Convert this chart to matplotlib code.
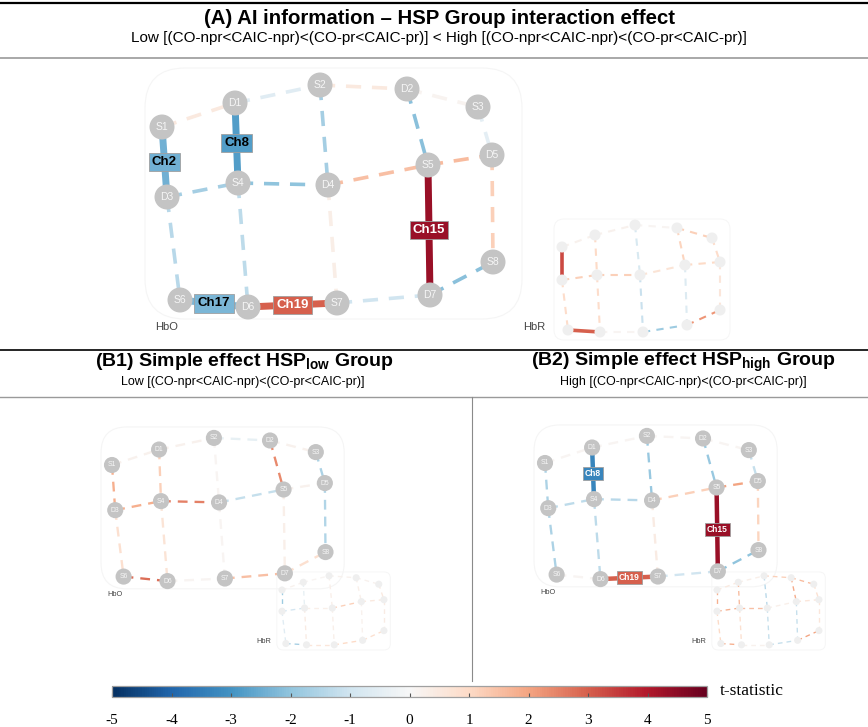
import matplotlib
matplotlib.use("Agg")
from matplotlib import pyplot as plt
from matplotlib import colors, cm
from matplotlib.patches import Circle, FancyBboxPatch

plt.rcParams['font.family'] = ['Liberation Sans', 'DejaVu Sans']
plt.rcParams['mathtext.fontset'] = 'custom'
plt.rcParams['mathtext.rm'] = 'Liberation Sans'
plt.rcParams['mathtext.bf'] = 'Liberation Sans:bold'
plt.rcParams['axes.unicode_minus'] = False

# channel = source/detector pair, numbered Ch1..Ch22 in this order
channels = [('S1', 'D1'), ('S1', 'D3'), ('D1', 'S2'), ('S2', 'D2'), ('S2', 'D4'),
            ('D2', 'S3'), ('D2', 'S5'), ('D1', 'S4'), ('S3', 'D5'), ('D3', 'S4'),
            ('S4', 'D4'), ('D4', 'S5'), ('S5', 'D5'), ('D3', 'S6'), ('S5', 'D7'),
            ('S4', 'D6'), ('S6', 'D6'), ('D4', 'S7'), ('D6', 'S7'), ('S7', 'D7'),
            ('D5', 'S8'), ('D7', 'S8')]

# t-statistics per channel
a_hbo_t = [0.5, -2.4, -0.6, 0.5, -1.7, 0.15, -2.1, -2.8, -0.5, -1.7, -2.0,
           1.5, 1.6, -1.4, 4.3, -1.3, -2.3, 0.35, 3.0, -1.0, 1.2, -2.1]
a_hbr_t = [0.2, 3.3, 0.2, 0.1, -0.8, 1.2, 1.1, 1.0, 0.9, 1.2, 1.2,
           0.7, 1.0, 0.9, -0.7, 0.9, 3.0, -1.1, 0.1, -1.8, 0.6, 2.2]
b1_hbo_t = [0.2, 1.8, 0.2, -0.4, 0.1, 0.2, 2.4, 1.2, -1.6, 1.8, 2.5,
            -1.2, 0.2, 0.8, 0.3, 0.7, 2.8, 0.1, 0.1, 1.5, -1.5, 0.8]
b1_hbr_t = [0.2, -1.8, 0.1, 0.2, 0.3, 0.2, 0.3, -0.4, 0.5, -0.9, 0.3,
            1.2, 0.5, -0.6, 0.2, 0.4, -1.7, 0.3, 0.6, 1.0, 0.4, 0.8]
b2_hbo_t = [0.1, -1.6, 0.1, 0.1, -1.9, 0.1, -1.9, -3.3, -1.2, -1.3, -1.4,
            1.2, 2.0, -1.6, 4.3, -1.3, 0.1, 0.4, 3.0, -1.0, 1.1, -2.0]
b2_hbr_t = [0.5, 1.8, 0.3, 1.2, -1.4, 1.6, 1.9, 1.6, 0.8, 1.8, 1.5,
            0.3, 0.6, 1.0, -1.2, 0.8, 1.8, -1.2, 0.2, -1.2, 0.6, 2.0]

# significant channels (numbers)
a_hbo_sig = [2, 8, 15, 17, 19]
a_hbr_sig = [2, 17]
b1_hbo_sig = []
b1_hbr_sig = []
b2_hbo_sig = [8, 15, 19]
b2_hbr_sig = []

colorbar_ticks = list(range(-5, 6))

# optode layout (pixels, as placed in panel A)
hbo_layout = {'S1': (162, 127), 'D1': (235, 103), 'S2': (320, 85), 'D2': (407, 89),
              'S3': (478, 107), 'D3': (167, 197), 'S4': (238, 183), 'D4': (328, 185),
              'S5': (428, 165), 'D5': (492, 155), 'S8': (493, 262), 'S6': (180, 300),
              'D6': (248, 307), 'S7': (337, 303), 'D7': (430, 295)}
hbr_layout = {'S1': (562, 247), 'D1': (595, 235), 'S2': (635, 225), 'D2': (677, 228),
              'S3': (712, 238), 'D3': (562, 280), 'S4': (597, 275), 'D4': (640, 275),
              'S5': (685, 265), 'D5': (720, 262), 'S8': (720, 310), 'S6': (568, 330),
              'D6': (600, 332), 'S7': (643, 332), 'D7': (687, 325)}

cmap = plt.get_cmap('RdBu_r')
norm = colors.Normalize(vmin=-5, vmax=5)


def place(layout, src, dst, s):
    return {k: (dst[0] + (x - src[0]) * s, dst[1] + (y - src[1]) * s)
            for k, (x, y) in layout.items()}


def draw_hbo(ax, pos, tvals, sig, s):
    # faint rounded frame behind the head map
    x0, y0 = pos['S1'][0] - 17 * s, pos['S2'][1] - 17 * s
    x1, y1 = pos['D5'][0] + 30 * s, pos['D6'][1] + 12 * s
    ax.add_patch(FancyBboxPatch((x0, y0), x1 - x0, y1 - y0,
                                boxstyle=f'round,pad=0,rounding_size={40 * s}',
                                fc='none', ec='#f5f5f5', lw=0.8, zorder=1))
    for i, (a, b) in enumerate(channels):
        (xa, ya), (xb, yb) = pos[a], pos[b]
        col = cmap(norm(tvals[i]))
        if i + 1 in sig:
            ax.plot([xa, xb], [ya, yb], color=col, lw=5.0 * s,
                    solid_capstyle='butt', zorder=3)
        else:
            ax.plot([xa, xb], [ya, yb], color=col, lw=2.6 * s,
                    dashes=(4.2, 3.0), zorder=2)
    for name, (x, y) in pos.items():
        ax.add_patch(Circle((x, y), 12.5 * s, fc='#c4c4c4', ec='none', zorder=4))
        ax.text(x, y, name, ha='center', va='center', fontsize=7.5 * s,
                color='#f6f6f6', zorder=5)
    for i, (a, b) in enumerate(channels):
        if i + 1 not in sig:
            continue
        (xa, ya), (xb, yb) = pos[a], pos[b]
        t = tvals[i]
        ax.text((xa + xb) / 2, (ya + yb) / 2, f'Ch{i + 1}', ha='center', va='center',
                fontsize=9.5 * s, fontweight='bold',
                color='white' if abs(t) >= 3 else 'black', zorder=6,
                bbox=dict(boxstyle='square,pad=0.25', fc=cmap(norm(t)),
                          ec='#a0a0a0', lw=0.6))
    ax.text(pos['S6'][0] - 25 * s, pos['S6'][1] + 27 * s, 'HbO', ha='left',
            va='center', fontsize=7.5 * s + 0.5, color='#444444')


def draw_hbr(ax, pos, tvals, sig, s):
    x0, y0 = pos['S1'][0] - 8 * s, pos['S2'][1] - 6 * s
    x1, y1 = pos['D5'][0] + 10 * s, pos['D6'][1] + 8 * s
    ax.add_patch(FancyBboxPatch((x0, y0), x1 - x0, y1 - y0,
                                boxstyle=f'round,pad=0,rounding_size={10 * s}',
                                fc='none', ec='#f6f6f6', lw=0.7, zorder=1))
    for i, (a, b) in enumerate(channels):
        (xa, ya), (xb, yb) = pos[a], pos[b]
        col = cmap(norm(tvals[i]))
        if i + 1 in sig:
            ax.plot([xa, xb], [ya, yb], color=col, lw=2.6 * s,
                    solid_capstyle='butt', zorder=3)
        else:
            ax.plot([xa, xb], [ya, yb], color=col, lw=1.5 * s,
                    dashes=(3.5, 3.0), zorder=2)
    for name, (x, y) in pos.items():
        ax.add_patch(Circle((x, y), 5.5 * s, fc='#efefef', ec='none', zorder=4))
    ax.text(pos['S6'][0] - 45 * s, pos['S6'][1] - 3 * s, 'HbR', ha='left',
            va='center', fontsize=7.5 * s + 0.5, color='#444444')


fig = plt.figure(figsize=(8.68, 7.27), dpi=100)
ax = fig.add_axes([0, 0, 1, 1])
ax.set_xlim(0, 868)
ax.set_ylim(727, 0)
ax.axis('off')

# panel A
draw_hbo(ax, hbo_layout, a_hbo_t, a_hbo_sig, 1.0)
draw_hbr(ax, hbr_layout, a_hbr_t, a_hbr_sig, 1.0)

# panels B1 / B2 (scaled copies)
sb = 0.645
draw_hbo(ax, place(hbo_layout, (162, 127), (112, 465), sb), b1_hbo_t, b1_hbo_sig, sb)
draw_hbr(ax, place(hbr_layout, (562, 247), (282, 590), sb), b1_hbr_t, b1_hbr_sig, sb)
draw_hbo(ax, place(hbo_layout, (162, 127), (545, 463), sb), b2_hbo_t, b2_hbo_sig, sb)
draw_hbr(ax, place(hbr_layout, (562, 247), (717, 590), sb), b2_hbr_t, b2_hbr_sig, sb)

# separators
ax.plot([0, 868], [3, 3], color='black', lw=1.6)
ax.plot([0, 868], [58, 58], color='#9a9a9a', lw=1.2)
ax.plot([0, 868], [350, 350], color='black', lw=1.2)
ax.plot([0, 868], [397, 397], color='#9a9a9a', lw=1.0)
ax.plot([472, 472], [397, 681], color='#8a8a8a', lw=0.8)

# headings
sub = 'Low [(CO-npr<CAIC-npr)<(CO-pr<CAIC-pr)]'
sub_hi = 'High [(CO-npr<CAIC-npr)<(CO-pr<CAIC-pr)]'
ax.text(440, 19, '(A) AI information \u2013 HSP Group interaction effect',
        ha='center', va='center', fontsize=14.7, fontweight='bold')
ax.text(439, 38, sub + ' < ' + sub_hi, ha='center', va='center', fontsize=11)
ax.text(244, 362, r'(B1) Simple effect HSP$_{\mathbf{low}}$ Group',
        ha='center', va='center', fontsize=14, fontweight='bold')
ax.text(243, 382, sub, ha='center', va='center', fontsize=9)
ax.text(683, 362, r'(B2) Simple effect HSP$_{\mathbf{high}}$ Group',
        ha='center', va='center', fontsize=14, fontweight='bold')
ax.text(683, 382, sub_hi, ha='center', va='center', fontsize=9)

# colour scale
cax = fig.add_axes([112 / 868, 1 - 697 / 727, (707 - 112) / 868, 11 / 727])
cb = fig.colorbar(cm.ScalarMappable(norm=norm, cmap=cmap), cax=cax,
                  orientation='horizontal', ticks=colorbar_ticks)
cb.outline.set_edgecolor('#a0a0a0')
cb.outline.set_linewidth(0.9)
cax.tick_params(direction='in', length=3, width=0.8, color='#555555', pad=12,
                labelsize=11)
for lab in cax.get_xticklabels():
    lab.set_family('Liberation Serif')
fig.text(720 / 868, 1 - 691 / 727, 't-statistic', ha='left', va='center',
         fontsize=12.5, family='Liberation Serif')

plt.savefig('out.png', dpi=100)
